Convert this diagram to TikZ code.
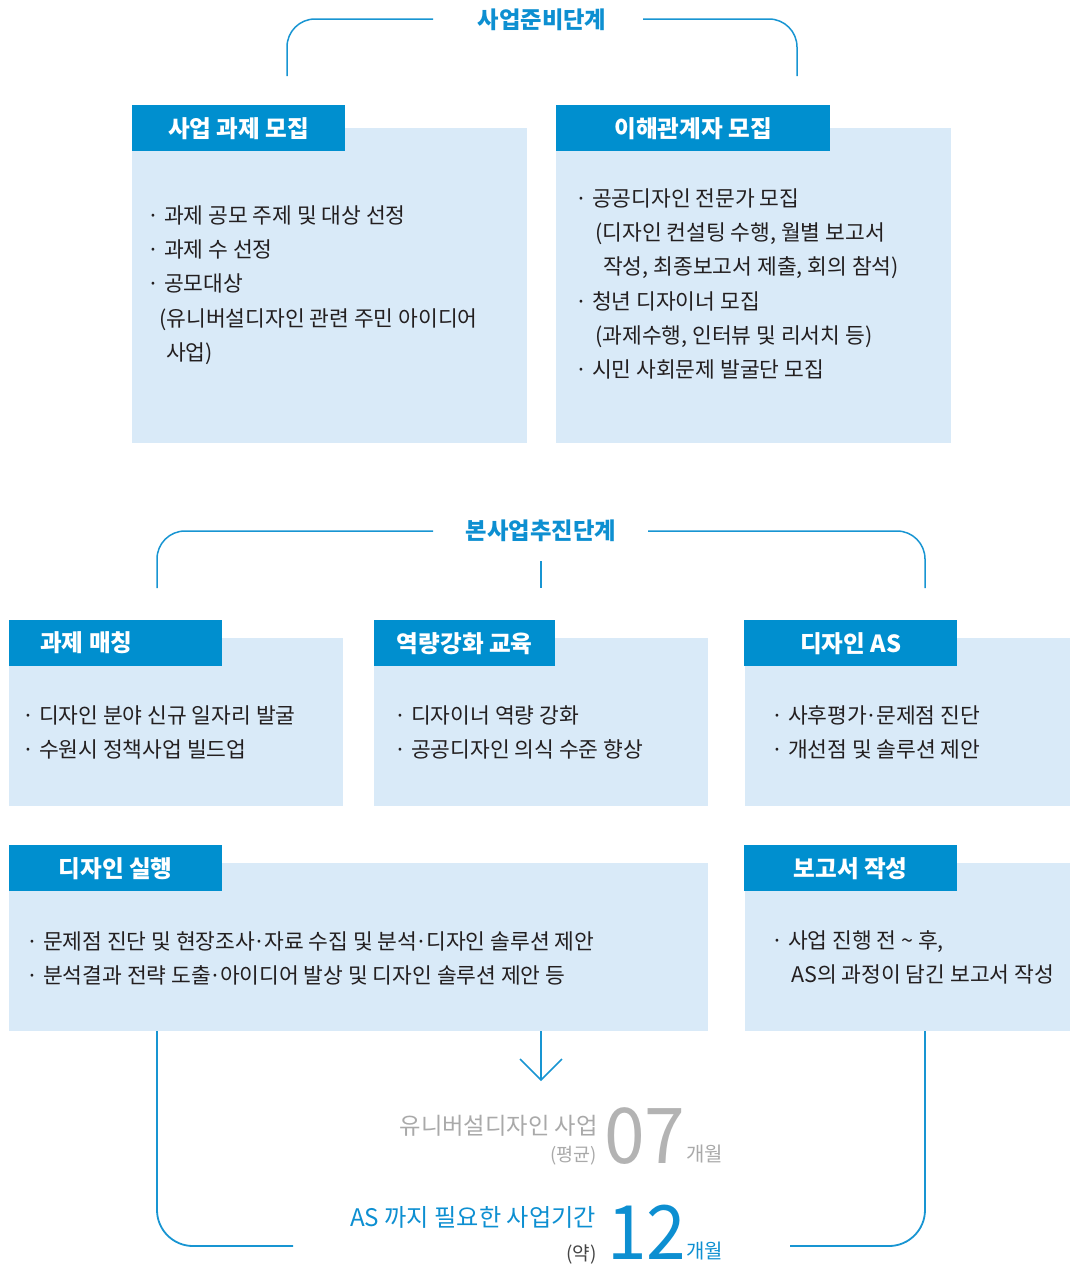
\documentclass[tikz,border=0pt]{standalone}
\usepackage{fontspec}
\setmainfont{Noto Sans CJK KR}
\definecolor{hblue}{HTML}{008FCF}
\definecolor{lblue}{HTML}{D9EAF8}
\definecolor{lnblue}{HTML}{1895D2}
\definecolor{tblue}{HTML}{0D8FD1}
\definecolor{txt}{HTML}{231F20}
\definecolor{gtxt}{HTML}{A9A9A9}
\definecolor{gnum}{HTML}{B3B3B3}
\definecolor{dtxt}{HTML}{444444}
\newcommand{\mdt}{\kern-0.07em·\kern-0.07em}
\tikzset{
  lbox/.style={fill=lblue, inner sep=0pt, anchor=north west},
  hdr/.style={fill=hblue, text=white, inner sep=0pt, anchor=north west, minimum height=46pt,
    font=\fontsize{23.6}{28}\selectfont\bfseries},
  hdrtxt/.style={text=white, inner sep=0pt, font=\fontsize{23.6}{28}\selectfont\bfseries},
  body/.style={text=txt, inner sep=0pt, anchor=base west, font=\fontsize{21.5}{25}\selectfont},
  ttl/.style={text=tblue, inner sep=0pt, font=\fontsize{23.3}{27}\selectfont\bfseries},
  bline/.style={draw=lnblue, line width=1.5pt, rounded corners=28pt},
  bline2/.style={draw=lnblue, line width=1.8pt, rounded corners=36pt},
  sline/.style={draw=lnblue, line width=1.5pt},
}
\begin{document}
\begin{tikzpicture}[x=1pt,y=-1pt]
\useasboundingbox (0,0) rectangle (1070,1266);

% ---------- stage 1 ----------
\node[ttl] (t1) at (542,20) {사업준비단계};
\coordinate (t1l) at (433,19);
\coordinate (t1r) at (643,19);
\coordinate (t1ld) at (287,76);
\coordinate (t1rd) at (797,76);
\draw[bline] (t1ld) |- (t1l);
\draw[bline] (t1r) -| (t1rd);

\node[lbox, minimum width=395pt, minimum height=315pt] (b1) at (132,128) {};
\node[hdr, minimum width=213pt] (h1) at (132,105) {사업 과제 모집};
\node[lbox, minimum width=395pt, minimum height=315pt] (b2) at (556,128) {};
\node[hdr, minimum width=274pt] (h2) at (556,105) {이해관계자 모집};

\node[body] (b1a) at (147,223) {· 과제 공모 주제 및 대상 선정};
\node[body] (b1b) at (147,257) {· 과제 수 선정};
\node[body] (b1c) at (147,291) {· 공모대상};
\node[body] (b1d) at (159,326) {(유니버설디자인 관련 주민 아이디어};
\node[body] (b1e) at (166,360) {사업)};

\node[body] (b2a) at (575,206) {· 공공디자인 전문가 모집};
\node[body] (b2b) at (595,240) {(디자인 컨설팅 수행, 월별 보고서};
\node[body] (b2c) at (603,274) {작성, 최종보고서 제출, 회의 참석)};
\node[body] (b2d) at (575,309) {· 청년 디자이너 모집};
\node[body] (b2e) at (595,343) {(과제수행, 인터뷰 및 리서치 등)};
\node[body] (b2f) at (575,377) {· 시민 사회문제 발굴단 모집};

% ---------- stage 2 ----------
\node[ttl] (t2) at (541,531) {본사업추진단계};
\coordinate (t2l) at (433,531);
\coordinate (t2r) at (648,531);
\coordinate (t2ld) at (157,588);
\coordinate (t2rd) at (925,588);
\coordinate (t2mt) at (541,561);
\coordinate (t2md) at (541,588);
\draw[bline] (t2ld) |- (t2l);
\draw[bline] (t2r) -| (t2rd);
\draw[sline] (t2mt) -- (t2md);

\node[lbox, minimum width=334pt, minimum height=168pt] (b3) at (9,638) {};
\node[hdr, minimum width=213pt] (h3) at (9,620) {};
\node[hdrtxt, anchor=west] (h3t) at (40,643) {과제 매칭};
\node[lbox, minimum width=334pt, minimum height=168pt] (b4) at (374,638) {};
\node[hdr, minimum width=181pt] (h4) at (374,620) {역량강화 교육};
\node[lbox, minimum width=325pt, minimum height=168pt] (b5) at (745,638) {};
\node[hdr, minimum width=213pt] (h5) at (744,620) {디자인 AS};

\node[body] (b3a) at (22,723) {· 디자인 분야 신규 일자리 발굴};
\node[body] (b3b) at (22,757) {· 수원시 정책사업 빌드업};
\node[body] (b4a) at (394,723) {· 디자이너 역량 강화};
\node[body] (b4b) at (394,757) {· 공공디자인 의식 수준 향상};
\node[body] (b5a) at (771,723) {· 사후평가\mdt 문제점 진단};
\node[body] (b5b) at (771,757) {· 개선점 및 솔루션 제안};

\node[lbox, minimum width=699pt, minimum height=168pt] (b6) at (9,863) {};
\node[hdr, minimum width=213pt] (h6) at (9,845) {디자인 실행};
\node[lbox, minimum width=325pt, minimum height=168pt] (b7) at (745,863) {};
\node[hdr, minimum width=213pt] (h7) at (744,845) {보고서 작성};

\node[body] (b6a) at (26,949) {· 문제점 진단 및 현장조사\mdt 자료 수집 및 분석\mdt 디자인 솔루션 제안};
\node[body] (b6b) at (26,983) {· 분석결과 전략 도출\mdt 아이디어 발상 및 디자인 솔루션 제안 등};
\node[body] (b7a) at (771,948) {· 사업 진행 전 \textasciitilde{} 후,};
\node[body] (b7b) at (791,982) {AS의 과정이 담긴 보고서 작성};

% ---------- result ----------
\coordinate (arT) at (541,1031);
\coordinate (arB) at (541,1080);
\coordinate (arL) at (520,1059);
\coordinate (arR) at (562,1059);
\draw[sline] (arT) -- (arB);
\draw[sline, line join=miter] (arL) -- (arB) -- (arR);

\coordinate (lbT) at (157,1031);
\coordinate (lbE) at (293,1246);
\coordinate (rbT) at (925,1031);
\coordinate (rbE) at (790,1246);
\draw[bline2] (lbT) |- (lbE);
\draw[bline2] (rbE) -| (rbT);

\node[text=gtxt, inner sep=0pt, anchor=base east, font=\fontsize{23.3}{27}\selectfont] (r1) at (598,1134) {유니버설디자인 사업};
\node[text=gtxt, inner sep=0pt, anchor=base east, font=\fontsize{18.5}{21}\selectfont] (r1p) at (597,1161) {(평균)};
\node[text=gnum, inner sep=0pt, anchor=base west, font=\fontsize{77}{80}\selectfont] (r1n) at (604,1163) {\scalebox{0.95}[1]{07}};
\node[text=gtxt, inner sep=0pt, anchor=base west, font=\fontsize{20}{22}\selectfont] (r1u) at (686,1161) {개월};

\node[text=tblue, inner sep=0pt, anchor=base east, font=\fontsize{24.2}{28}\selectfont] (r2) at (596,1226) {AS 까지 필요한 사업기간};
\node[text=dtxt, inner sep=0pt, anchor=base east, font=\fontsize{19}{21}\selectfont] (r2p) at (597,1260) {(약)};
\node[text=tblue, inner sep=0pt, anchor=base west, font=\fontsize{75}{80}\selectfont] (r2n) at (607,1259) {\scalebox{0.95}[1]{12}};
\node[text=tblue, inner sep=0pt, anchor=base west, font=\fontsize{20}{22}\selectfont] (r2u) at (686,1258) {개월};
\end{tikzpicture}
\end{document}
